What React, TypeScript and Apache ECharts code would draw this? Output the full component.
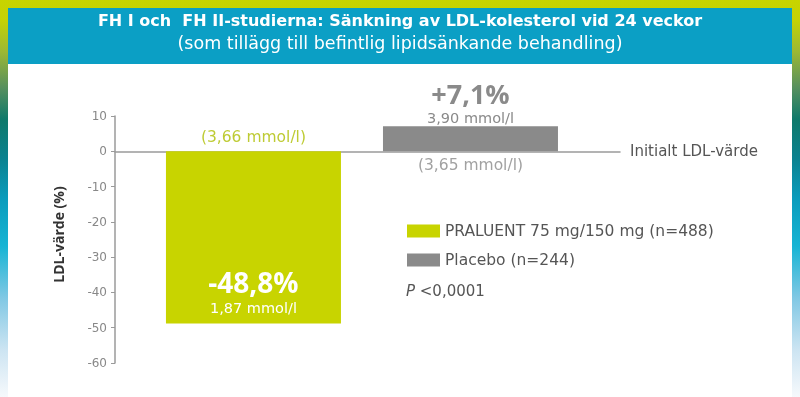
import React, { useEffect, useRef } from "react";
import * as echarts from "echarts";

const titleLine1 = "FH I och  FH II-studierna: Sänkning av LDL-kolesterol vid 24 veckor";
const titleLine2 = "(som tillägg till befintlig lipidsänkande behandling)";
const seriesNames = ["PRALUENT 75 mg/150 mg (n=488)", "Placebo (n=244)"];
const barPositions = [1, 2];
const changeValues = [-48.8, 7.1];
const changeLabels = ["-48,8%", "+7,1%"];
const endLabels = ["1,87 mmol/l", "3,90 mmol/l"];
const baselineLabels = ["(3,66 mmol/l)", "(3,65 mmol/l)"];
const yTicks = { min: -60, max: 10, interval: 10 };
const xRange = { min: 0.362, max: 2.689 };
const pValue = "<0,0001";
const baselineName = "Initialt LDL-värde";
const yAxisName = "LDL-värde (%)";

const GREEN = "#c8d400";
const GRAY = "#8a8a8a";
const FONT = "DejaVu Sans";
const BOLD = "Open Sans";

export default function App() {
  const ref = useRef<HTMLDivElement>(null);
  useEffect(() => {
    const chart = echarts.init(ref.current!, null, { renderer: "svg" });
    chart.setOption({
      animation: false,
      textStyle: { fontFamily: FONT },
      graphic: [
        {
          type: "rect",
          z: -10,
          shape: { x: 0, y: 0, width: 800, height: 397 },
          style: {
            fill: new echarts.graphic.LinearGradient(0, 0, 0, 1, [
              { offset: 0, color: "#c8d400" },
              { offset: 0.05, color: "#c4d204" },
              { offset: 0.13, color: "#9cb834" },
              { offset: 0.22, color: "#58905e" },
              { offset: 0.3, color: "#0f796a" },
              { offset: 0.4, color: "#0b8290" },
              { offset: 0.5, color: "#0a9cbc" },
              { offset: 0.62, color: "#16b4d4" },
              { offset: 0.75, color: "#80c8e4" },
              { offset: 0.88, color: "#cce4f2" },
              { offset: 1, color: "#f6f9fc" },
            ]),
          },
        },
        {
          type: "rect",
          z: -9,
          shape: { x: 8, y: 8, width: 784, height: 389 },
          style: { fill: "#ffffff" },
        },
        {
          type: "rect",
          z: -8,
          shape: { x: 8, y: 8, width: 784, height: 56 },
          style: { fill: "#0b9fc5" },
        },
      ],
      title: [
        {
          text: titleLine1,
          left: "center",
          top: 7,
          textStyle: { color: "#fff", fontSize: 16, fontWeight: "bold", fontFamily: FONT },
        },
        {
          text: titleLine2,
          left: "center",
          top: 29,
          textStyle: { color: "#fff", fontSize: 17.5, fontWeight: "normal", fontFamily: FONT },
        },
        {
          text: "{p|P} " + pValue,
          left: 401,
          top: 278,
          textStyle: {
            color: "#555",
            fontSize: 15,
            fontWeight: "normal",
            fontFamily: FONT,
            rich: { p: { fontStyle: "italic", color: "#555", fontSize: 15, fontFamily: FONT } },
          },
        },
      ],
      legend: {
        data: seriesNames,
        orient: "vertical",
        left: 402,
        top: 218,
        itemWidth: 33,
        itemHeight: 13,
        itemGap: 13,
        icon: "rect",
        textStyle: { color: "#555", fontSize: 15.5, fontFamily: FONT },
      },
      grid: { left: 115, right: 180, top: 116, bottom: 34 },
      xAxis: {
        type: "value",
        min: xRange.min,
        max: xRange.max,
        name: baselineName,
        nameLocation: "end",
        nameGap: 10,
        nameTextStyle: { color: "#555", fontSize: 15, verticalAlign: "middle", fontFamily: FONT },
        axisLine: { show: true, onZero: true, lineStyle: { color: "#9a9a9a", width: 1.5 } },
        axisTick: { show: false },
        axisLabel: { show: false },
        splitLine: { show: false },
      },
      yAxis: {
        type: "value",
        min: yTicks.min,
        max: yTicks.max,
        interval: yTicks.interval,
        name: yAxisName,
        nameLocation: "middle",
        nameGap: 50,
        nameTextStyle: { color: "#333", fontSize: 14, fontWeight: "bold", fontFamily: BOLD, padding: [0, 0, 0, 10] },
        axisLine: { show: true, onZero: false, lineStyle: { color: "#9a9a9a", width: 1.5 } },
        axisTick: { show: true, length: 4, lineStyle: { color: "#9a9a9a" } },
        axisLabel: { color: "#888", fontSize: 12, margin: 8, fontFamily: FONT },
        splitLine: { show: false },
      },
      series: [
        {
          name: seriesNames[0],
          type: "bar",
          stack: "s",
          barWidth: 175,
          itemStyle: { color: GREEN },
          data: [[barPositions[0], changeValues[0]]],
          label: {
            show: true,
            position: "insideBottom",
            distance: 7,
            formatter: () => `{a|${changeLabels[0]}}\n{b|${endLabels[0]}}`,
            rich: {
              a: { color: "#fff", fontSize: 28, fontWeight: "bold", lineHeight: 37, fontFamily: BOLD },
              b: { color: "#fff", fontSize: 14.5, lineHeight: 16, fontFamily: FONT },
            },
          },
        },
        {
          name: seriesNames[1],
          type: "bar",
          stack: "s",
          barWidth: 175,
          itemStyle: { color: GRAY },
          data: [[barPositions[1], changeValues[1]]],
          label: {
            show: true,
            position: "top",
            distance: 0,
            formatter: () => `{a|${changeLabels[1]}}\n{b|${endLabels[1]}}`,
            rich: {
              a: { color: GRAY, fontSize: 27, fontWeight: "bold", lineHeight: 34, fontFamily: BOLD },
              b: { color: GRAY, fontSize: 14.5, lineHeight: 16, fontFamily: FONT },
            },
          },
        },
        {
          name: "baseline",
          type: "scatter",
          symbolSize: 0,
          silent: true,
          data: [
            {
              value: [barPositions[0], 0],
              label: { show: true, position: "top", distance: 6, formatter: baselineLabels[0], color: "#aebe00", fontSize: 15.5, fontFamily: FONT },
            },
            {
              value: [barPositions[1], 0],
              label: { show: true, position: "bottom", distance: 6, formatter: baselineLabels[1], color: GRAY, fontSize: 15.5, fontFamily: FONT },
            },
          ],
        },
      ],
    });
    return () => chart.dispose();
  }, []);
  return (
    <div style={{ position: "fixed", left: 0, top: 0, width: 800, height: 397 }}>
      <div ref={ref} style={{ width: 800, height: 397 }} />
    </div>
  );
}
